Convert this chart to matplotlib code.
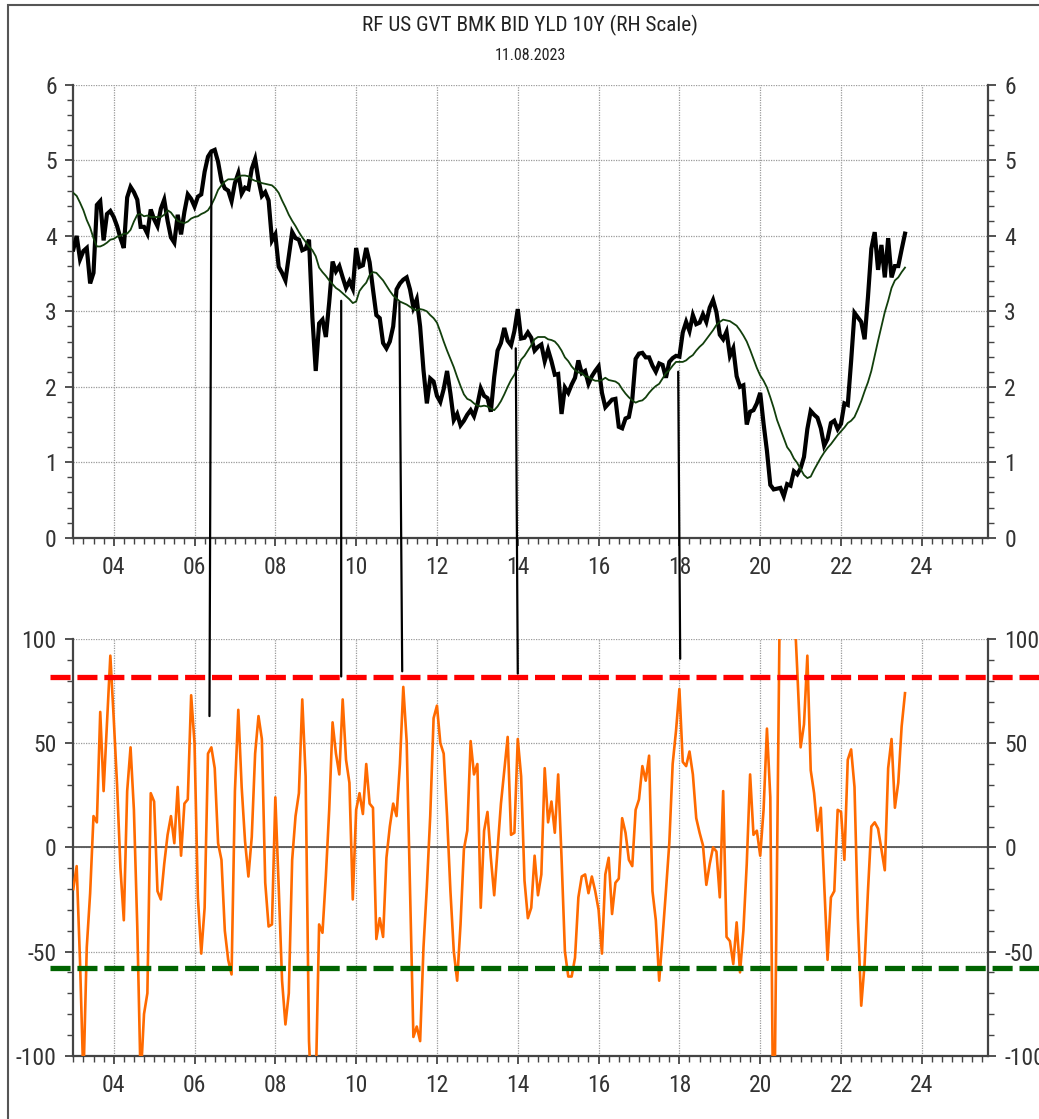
import matplotlib
matplotlib.use("Agg")
import matplotlib.pyplot as plt
from matplotlib import font_manager as fm
from matplotlib.patches import ConnectionPatch, Rectangle
from matplotlib.ticker import MultipleLocator, FixedLocator, FixedFormatter
import numpy as np


def narrow_family():
    """Return (family, stretch) of a narrow sans face if one is installed."""
    names = {f.name for f in fm.fontManager.ttflist}
    for name in ("Liberation Sans Narrow", "Arial Narrow", "Roboto Condensed",
                 "Open Sans Condensed", "Noto Sans Condensed", "DejaVu Sans Condensed"):
        if name in names:
            return name, "normal"
    for f in fm.fontManager.ttflist:
        if f.stretch in ("condensed", "semi-condensed", "extra-condensed") and f.style == "normal":
            return f.name, f.stretch
    return None, "normal"


fam, stretch = narrow_family()
if fam is not None:
    plt.rcParams["font.family"] = [fam, "Liberation Sans", "DejaVu Sans"]
    plt.rcParams["font.stretch"] = stretch
    TICK_SIZE, TITLE_SIZE, SUB_SIZE = 17, 15.3, 11.5
else:
    plt.rcParams["font.family"] = ["Liberation Sans", "DejaVu Sans"]
    TICK_SIZE, TITLE_SIZE, SUB_SIZE = 15, 13.5, 10.5
plt.rcParams["axes.unicode_minus"] = False

# ---------------------------------------------------------------- data
START_YEAR = 2003.0  # first monthly observation

# US 10Y benchmark bid yield, monthly (%)
yield_10y = [
    3.82,
    4.00, 3.69, 3.80, 3.84, 3.37, 3.51, 4.41, 4.46, 3.94, 4.29, 4.33, 4.25,
    4.13, 3.97, 3.84, 4.51, 4.65, 4.58, 4.48, 4.12, 4.12, 4.03, 4.35, 4.22,
    4.13, 4.36, 4.48, 4.20, 3.98, 3.91, 4.28, 4.02, 4.32, 4.55, 4.49, 4.39,
    4.52, 4.55, 4.85, 5.05, 5.12, 5.14, 4.98, 4.73, 4.63, 4.60, 4.46, 4.70,
    4.83, 4.56, 4.64, 4.62, 4.89, 5.02, 4.74, 4.53, 4.58, 4.47, 3.94, 4.02,
    3.59, 3.51, 3.41, 3.73, 4.05, 3.97, 3.95, 3.81, 3.83, 3.95, 2.92, 2.21,
    2.84, 2.89, 2.66, 3.12, 3.66, 3.53, 3.60, 3.45, 3.31, 3.40, 3.30, 3.84,
    3.59, 3.61, 3.84, 3.65, 3.29, 2.95, 2.91, 2.58, 2.51, 2.60, 2.80, 3.29,
    3.37, 3.42, 3.45, 3.29, 3.05, 3.16, 2.80, 2.22, 1.78, 2.11, 2.07, 1.88,
    1.80, 1.97, 2.21, 1.91, 1.56, 1.64, 1.49, 1.55, 1.63, 1.69, 1.61, 1.76,
    1.98, 1.88, 1.85, 1.67, 2.13, 2.48, 2.58, 2.78, 2.61, 2.55, 2.74, 3.03,
    2.64, 2.65, 2.72, 2.65, 2.48, 2.53, 2.56, 2.34, 2.49, 2.34, 2.16, 2.17,
    1.64, 1.99, 1.92, 2.03, 2.12, 2.35, 2.18, 2.21, 2.04, 2.14, 2.21, 2.27,
    1.92, 1.73, 1.78, 1.83, 1.84, 1.47, 1.45, 1.58, 1.60, 1.83, 2.37, 2.44,
    2.45, 2.39, 2.39, 2.28, 2.20, 2.31, 2.29, 2.12, 2.33, 2.38, 2.41, 2.40,
    2.72, 2.86, 2.74, 2.95, 2.83, 2.85, 2.96, 2.86, 3.05, 3.15, 2.99, 2.69,
    2.63, 2.73, 2.41, 2.51, 2.14, 2.00, 2.02, 1.50, 1.67, 1.69, 1.78, 1.92,
    1.51, 1.15, 0.70, 0.64, 0.65, 0.66, 0.55, 0.71, 0.69, 0.88, 0.84, 0.92,
    1.07, 1.44, 1.68, 1.63, 1.59, 1.45, 1.22, 1.31, 1.52, 1.55, 1.44, 1.51,
    1.78, 1.76, 2.34, 2.98, 2.92, 2.86, 2.63, 3.19, 3.83, 4.05, 3.55, 3.88,
    3.45, 3.97, 3.45, 3.60, 3.60, 3.82, 4.03,
]

# 12-month average of the yield (%)
yield_avg = [
    4.57,
    4.53, 4.44, 4.34, 4.21, 4.11, 3.97, 3.86, 3.86, 3.88, 3.91, 3.95, 3.96,
    3.99, 4.00, 4.03, 4.03, 4.08, 4.19, 4.28, 4.29, 4.26, 4.27, 4.25, 4.25,
    4.25, 4.25, 4.28, 4.34, 4.31, 4.25, 4.20, 4.18, 4.17, 4.19, 4.23, 4.25,
    4.26, 4.29, 4.31, 4.34, 4.41, 4.50, 4.61, 4.67, 4.72, 4.75, 4.75, 4.75,
    4.78, 4.80, 4.80, 4.79, 4.75, 4.73, 4.72, 4.70, 4.69, 4.68, 4.67, 4.63,
    4.57, 4.47, 4.38, 4.28, 4.20, 4.13, 4.05, 3.98, 3.92, 3.86, 3.81, 3.73,
    3.58, 3.52, 3.47, 3.41, 3.36, 3.31, 3.28, 3.24, 3.20, 3.16, 3.11, 3.13,
    3.27, 3.33, 3.38, 3.48, 3.52, 3.51, 3.46, 3.41, 3.34, 3.27, 3.21, 3.17,
    3.13, 3.11, 3.09, 3.06, 3.03, 3.01, 3.03, 3.02, 3.00, 2.95, 2.91, 2.85,
    2.73, 2.60, 2.48, 2.37, 2.26, 2.13, 2.01, 1.90, 1.84, 1.82, 1.78, 1.75,
    1.74, 1.75, 1.74, 1.71, 1.69, 1.74, 1.81, 1.90, 2.00, 2.09, 2.16, 2.25,
    2.36, 2.41, 2.48, 2.55, 2.63, 2.66, 2.66, 2.66, 2.63, 2.62, 2.60, 2.55,
    2.48, 2.39, 2.34, 2.27, 2.22, 2.19, 2.18, 2.14, 2.13, 2.10, 2.08, 2.08,
    2.09, 2.12, 2.09, 2.08, 2.07, 2.04, 1.97, 1.91, 1.86, 1.82, 1.79, 1.81,
    1.82, 1.86, 1.92, 1.97, 2.01, 2.04, 2.11, 2.18, 2.22, 2.28, 2.33, 2.33,
    2.33, 2.35, 2.39, 2.42, 2.48, 2.53, 2.57, 2.63, 2.69, 2.75, 2.82, 2.86,
    2.89, 2.88, 2.87, 2.84, 2.81, 2.75, 2.68, 2.60, 2.49, 2.37, 2.25, 2.15,
    2.08, 1.99, 1.86, 1.72, 1.56, 1.44, 1.32, 1.20, 1.14, 1.05, 0.99, 0.91,
    0.83, 0.79, 0.81, 0.90, 0.98, 1.06, 1.13, 1.19, 1.24, 1.30, 1.36, 1.41,
    1.46, 1.52, 1.55, 1.60, 1.70, 1.81, 1.94, 2.06, 2.21, 2.41, 2.61, 2.80,
    2.99, 3.14, 3.31, 3.41, 3.45, 3.52, 3.58,
]

# momentum oscillator, monthly
oscillator = [
    -20,
    -9, -55, -112, -48, -22, 15, 12, 65, 27, 60, 92, 62,
    30, -10, -35, 27, 48, 18, -38, -112, -80, -70, 26, 22,
    -21, -25, -8, 6, 15, 2, 29, -4, 21, 23, 73, 50,
    -24, -51, -29, 45, 48, 38, 2, -6, -40, -54, -61, 27,
    66, 29, 3, -14, 5, 45, 63, 52, -17, -38, -37, 24,
    -19, -64, -85, -70, -6, 15, 26, 71, 34, -93, -130, -115,
    -37, -41, -14, 18, 60, 45, 35, 71, 42, 31, -25, 18,
    26, 16, 40, 21, 19, -44, -34, -43, -5, 10, 21, 15,
    40, 77, 51, -20, -91, -86, -93, -48, -19, 15, 62, 68,
    50, 45, 15, -21, -50, -64, -37, -1, 8, 51, 35, 40,
    -29, 8, 17, -5, -23, -1, 21, 37, 53, 6, 7, 52,
    34, -16, -34, -29, -4, -23, -13, 38, 12, 22, 7, 35,
    -5, -50, -62, -62, -53, -24, -14, -13, -22, -14, -21, -30,
    -51, -13, -5, -32, -17, -15, 14, 7, -6, -9, 18, 23,
    39, 32, 44, -21, -35, -64, -43, -21, 2, 40, 56, 76,
    41, 39, 46, 35, 14, 7, 1, -18, -8, 0, -2, -24,
    27, -43, -45, -56, -36, -60, -40, -8, 35, 6, 8, -4,
    18, 57, 24, -160, -8, 146, 160, 150, 135, 120, 85, 48,
    59, 92, 37, 26, 8, 19, -18, -54, -24, -21, 18, 17,
    -6, 42, 47, 29, -34, -76, -56, -21, 10, 12, 9, -1,
    -11, 38, 52, 19, 31, 58, 74,
]

# overbought / oversold bands of the oscillator
upper_band = 82
lower_band = -58

# signal markers: yield-panel anchor and oscillator-panel anchor
signal_top_x = [2006.42, 2009.63, 2011.07, 2013.95, 2017.97]
signal_top_y = [5.12, 3.14, 3.12, 2.51, 2.20]
signal_bot_x = [2006.37, 2009.63, 2011.14, 2014.00, 2018.02]
signal_bot_y = [63, 82, 84.5, 83.4, 90.5]

year_ticks = [2004, 2006, 2008, 2010, 2012, 2014, 2016, 2018, 2020, 2022, 2024]
year_labels = ["04", "06", "08", "10", "12", "14", "16", "18", "20", "22", "24"]
x_range = (2003.0, 2025.63)

title = "RF US GVT BMK BID YLD 10Y (RH Scale)"
subtitle = "11.08.2023"

# ---------------------------------------------------------------- layout
W, H = 1039, 1119
fig = plt.figure(figsize=(W / 100, H / 100), dpi=100)
fig.patch.set_facecolor("white")

left_px, right_px = 73.3, 987.7
ax1 = fig.add_axes([left_px / W, 1 - 537.7 / H, (right_px - left_px) / W, (537.7 - 85) / H])
ax2 = fig.add_axes([left_px / W, 1 - 1055.7 / H, (right_px - left_px) / W, (1055.7 - 639) / H])

dates = START_YEAR + np.arange(len(yield_10y)) / 12.0
osc_dates = START_YEAR + np.arange(len(oscillator)) / 12.0

TICK_COLOR = "#333333"
SPINE_COLOR = "#444444"


def style_axis(ax, ymin, ymax, major, minor):
    ax.set_xlim(*x_range)
    ax.set_ylim(ymin, ymax)
    ax.xaxis.set_major_locator(FixedLocator(year_ticks))
    ax.xaxis.set_major_formatter(FixedFormatter(year_labels))
    ax.xaxis.set_minor_locator(MultipleLocator(0.25))
    ax.yaxis.set_major_locator(MultipleLocator(major))
    ax.yaxis.set_minor_locator(MultipleLocator(minor))
    for side in ("left", "right", "bottom"):
        ax.spines[side].set_color(SPINE_COLOR)
        ax.spines[side].set_linewidth(1.6)
    ax.spines["top"].set_visible(False)
    ax.tick_params(which="both", direction="out", color=SPINE_COLOR,
                   left=True, right=True, labelleft=True, labelright=True,
                   top=False, bottom=True)
    ax.tick_params(which="major", length=6, width=1.3, labelsize=TICK_SIZE,
                   labelcolor=TICK_COLOR)
    ax.tick_params(axis="y", which="major", pad=6)
    ax.tick_params(axis="x", which="major", pad=7)
    ax.tick_params(which="minor", length=4, width=1.0)
    ax.grid(True, which="major", linestyle=(0, (1, 1)), color="#9a9a9a", linewidth=0.9)
    ax.set_axisbelow(True)


style_axis(ax1, 0, 6, 1, 0.2)
style_axis(ax2, -100, 100, 50, 10)

# upper panel: yield and its average
ax1.plot(dates, yield_10y, color="black", linewidth=3.0, solid_joinstyle="miter", zorder=3)
ax1.plot(dates, yield_avg, color="#123f0c", linewidth=1.3, zorder=4)

# lower panel: oscillator with its bands
ax2.axhline(0, color="#555555", linewidth=1.3, zorder=2)
ax2.plot(osc_dates, oscillator, color="#ff6a00", linewidth=1.9, zorder=3)
band_x0 = (50 - left_px) / (right_px - left_px)
ax2.axhline(upper_band, xmin=band_x0, xmax=1.2, color="#ff0000", linewidth=3.8,
            dashes=(3.8, 1.3), clip_on=False, zorder=4)
ax2.axhline(lower_band, xmin=band_x0, xmax=1.2, color="#006400", linewidth=3.8,
            dashes=(3.8, 1.3), clip_on=False, zorder=4)

# connectors between the two panels
for xt, yt, xb, yb in zip(signal_top_x, signal_top_y, signal_bot_x, signal_bot_y):
    con = ConnectionPatch(xyA=(xt, yt), coordsA=ax1.transData,
                          xyB=(xb, yb), coordsB=ax2.transData,
                          color="black", linewidth=1.6, zorder=10)
    fig.add_artist(con)

# titles
fig.text(530 / W, 1 - 25 / H, title, ha="center", va="center",
         fontsize=TITLE_SIZE, color="#222222")
fig.text(530 / W, 1 - 56 / H, subtitle, ha="center", va="center",
         fontsize=SUB_SIZE, color="#222222")

# outer frame
fig.add_artist(Rectangle((8 / W, -1.0), 2.0, 2.0 - 5 / H, transform=fig.transFigure,
                         fill=False, edgecolor="#555555", linewidth=1.5))

fig.savefig("out.png", dpi=100, facecolor="white")
